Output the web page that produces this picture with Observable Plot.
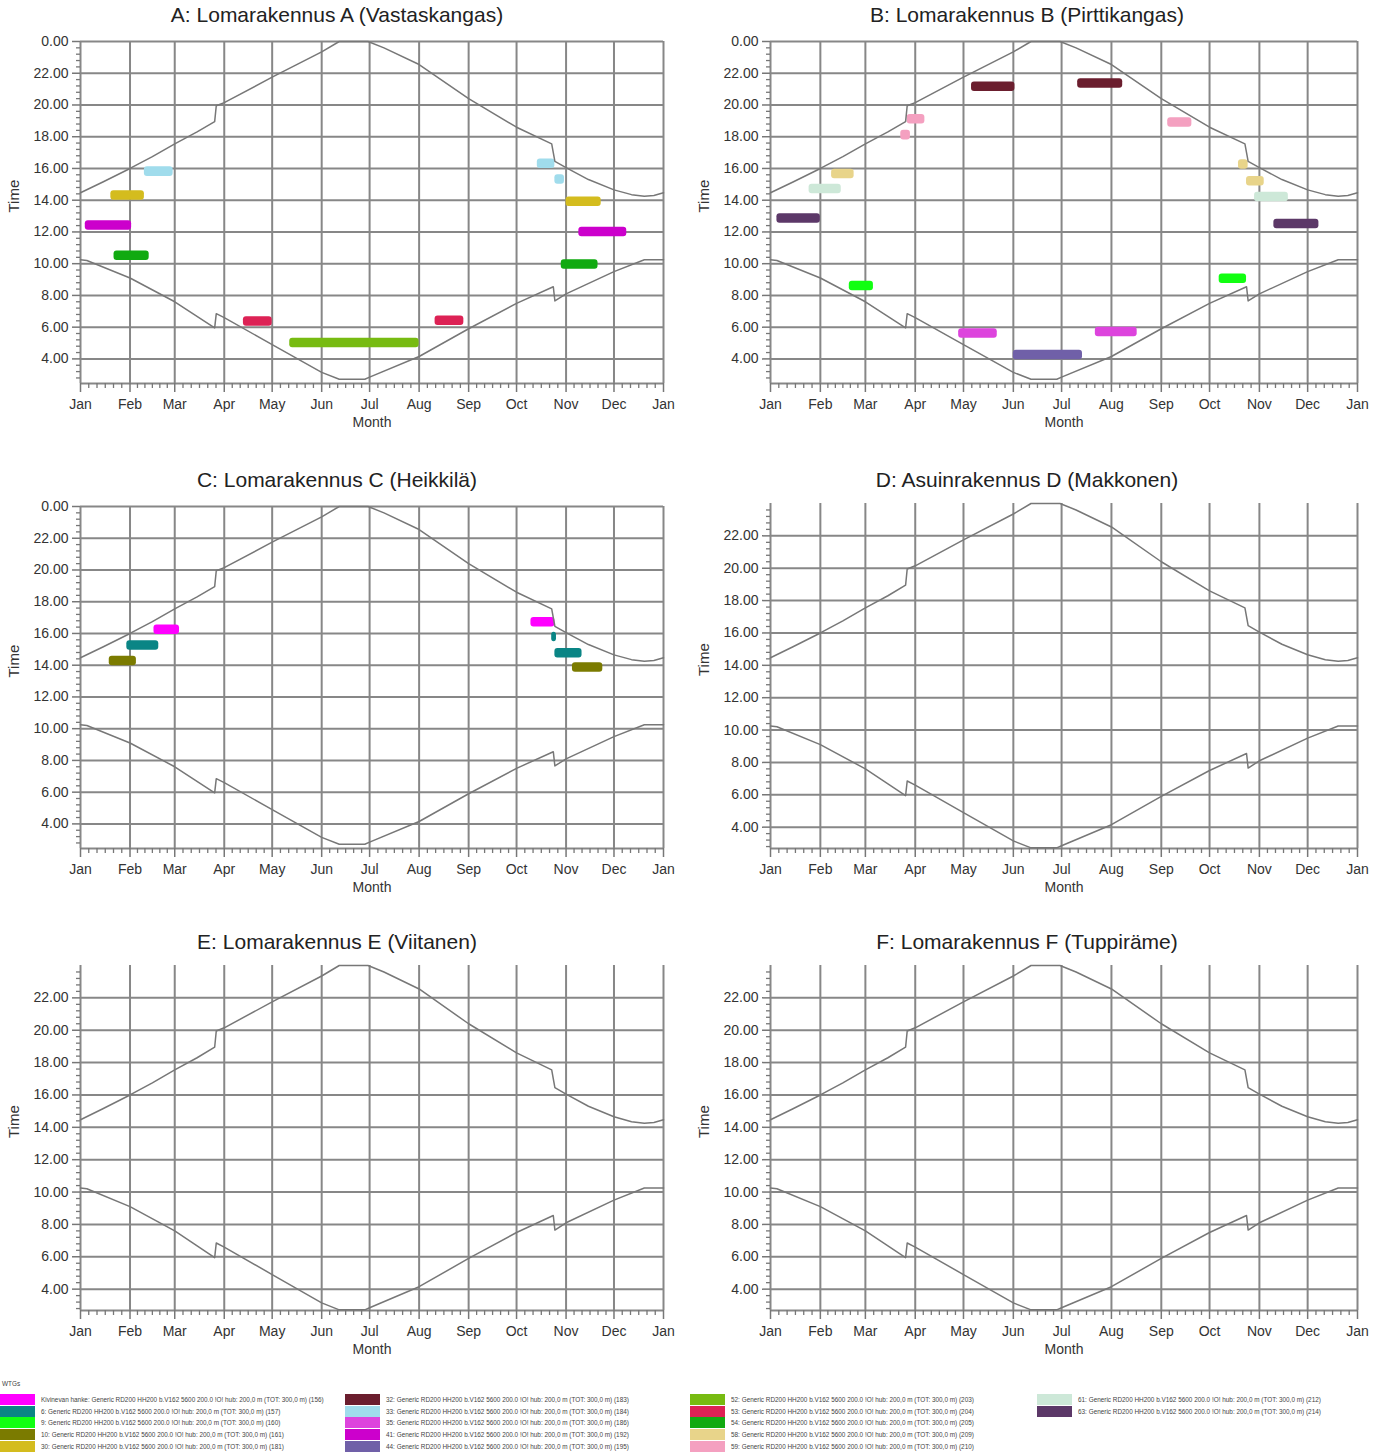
<!DOCTYPE html>
<html><head><meta charset="utf-8">
<script src="https://cdn.jsdelivr.net/npm/d3@7"></script>
<script src="https://cdn.jsdelivr.net/npm/@observablehq/plot@0.6"></script>
<style>
body{margin:0;background:#fff;font-family:"Liberation Sans",Arial,sans-serif;}
#root{position:relative;width:1384px;height:1454px;overflow:hidden;background:#fff;}
.panel{position:absolute;}
.title{position:absolute;text-align:center;font-size:21px;line-height:24px;color:#222;white-space:nowrap;}
.lg-sw{position:absolute;width:35px;height:11px;}
.lg-tx{position:absolute;font-size:6.4px;line-height:11px;color:#444;white-space:nowrap;}
</style></head><body><div id="root"></div>
<script>
// ---------- data ----------
const panelIds = ["A", "B", "C", "D", "E", "F"];
const panelTitles = [
  "A: Lomarakennus A (Vastaskangas)",
  "B: Lomarakennus B (Pirttikangas)",
  "C: Lomarakennus C (Heikkilä)",
  "D: Asuinrakennus D (Makkonen)",
  "E: Lomarakennus E (Viitanen)",
  "F: Lomarakennus F (Tuppiräme)"
];
const monthLabels = ["Jan","Feb","Mar","Apr","May","Jun","Jul","Aug","Sep","Oct","Nov","Dec","Jan"];

// sunset-like upper curve (hours)
const upperDates = ["2023-01-01","2023-01-15","2023-02-01","2023-02-15","2023-03-01","2023-03-15","2023-03-26","2023-03-27","2023-04-01","2023-05-01","2023-06-01","2023-06-12","2023-06-30","2023-07-10","2023-08-01","2023-09-01","2023-10-01","2023-10-23","2023-10-25","2023-11-01","2023-11-15","2023-12-01","2023-12-12","2023-12-20","2023-12-26","2024-01-01"];
const upperTimes = [14.47,15.15,16.0,16.75,17.55,18.3,18.95,19.95,20.15,21.75,23.35,24.0,24.0,23.6,22.55,20.4,18.6,17.55,16.45,16.05,15.3,14.65,14.35,14.25,14.3,14.47];
// sunrise-like lower curve (hours)
const lowerDates = ["2023-01-01","2023-01-05","2023-02-01","2023-03-01","2023-03-26","2023-03-27","2023-04-01","2023-05-01","2023-06-01","2023-06-12","2023-06-28","2023-07-01","2023-08-01","2023-09-01","2023-10-01","2023-10-24","2023-10-25","2023-11-01","2023-12-01","2023-12-20","2024-01-01"];
const lowerTimes = [10.25,10.2,9.1,7.6,5.95,6.85,6.6,4.9,3.15,2.72,2.72,2.85,4.15,5.9,7.5,8.55,7.65,8.1,9.5,10.25,10.25];

// WTG legend
const wtgNames = ["Kivinevan hanke","6","9","10","30","32","33","35","41","44","52","53","54","58","59","61","63"];
const wtgIds = ["156","157","160","161","181","183","184","186","192","195","203","204","205","209","210","212","214"];
const wtgColors = ["#ff00ff","#0a8585","#11ff11","#7b7b00","#d4bc1e","#6b1e2e","#a0dcec","#dd44dd","#cc00cc","#7060a8","#77bb11","#dd2255","#11aa11","#e8d48a","#f4a0c0","#cde8d8","#5c3868"];

// shadow periods
const barPanel = ["A","A","A","A","A","A","A","A","A","A","A","A",
  "B","B","B","B","B","B","B","B","B","B","B","B","B","B","B","B","B",
  "C","C","C","C","C","C","C"];
const barWtg = ["41","30","33","54","53","52","53","33","33","30","41","54",
  "63","61","58","9","59","59","32","35","44","32","35","59","58","58","61","63","9",
  "10","6","Kivinevan hanke","Kivinevan hanke","6","6","10"];
const barStart = ["2023-01-04","2023-01-20","2023-02-10","2023-01-22","2023-04-13","2023-05-12","2023-08-11","2023-10-14","2023-10-25","2023-11-01","2023-11-09","2023-10-29",
  "2023-01-05","2023-01-25","2023-02-08","2023-02-19","2023-03-23","2023-03-27","2023-05-06","2023-04-28","2023-06-01","2023-07-11","2023-07-22","2023-09-05","2023-10-19","2023-10-24","2023-10-29","2023-11-10","2023-10-07",
  "2023-01-19","2023-01-30","2023-02-16","2023-10-10","2023-10-23","2023-10-25","2023-11-05"];
const barEnd = ["2023-02-02","2023-02-10","2023-02-28","2023-02-13","2023-05-01","2023-08-01","2023-08-29","2023-10-25","2023-10-31","2023-11-23","2023-12-09","2023-11-21",
  "2023-02-01","2023-02-14","2023-02-22","2023-03-06","2023-03-29","2023-04-07","2023-06-02","2023-05-22","2023-07-14","2023-08-08","2023-08-17","2023-09-20","2023-10-25","2023-11-04","2023-11-19","2023-12-08","2023-10-24",
  "2023-02-05","2023-02-19","2023-03-04","2023-10-25","2023-10-26","2023-11-11","2023-11-24"];
const barTime = [12.4,14.3,15.8,10.5,6.35,5.0,6.4,16.3,15.3,13.9,12.0,9.95,
  12.85,14.7,15.65,8.6,18.1,19.1,21.15,5.6,4.25,21.35,5.7,18.9,16.25,15.2,14.2,12.5,9.05,
  14.27,15.24,16.23,16.7,15.77,14.75,13.85];

// ---------- build ----------
const parse = d3.utcParse("%Y-%m-%d");
const upper = upperDates.map((d, i) => ({date: parse(d), t: upperTimes[i]}));
const lower = lowerDates.map((d, i) => ({date: parse(d), t: lowerTimes[i]}));
const bars = barPanel.map((p, i) => ({panel: p, wtg: barWtg[i], start: parse(barStart[i]), end: parse(barEnd[i]), t: barTime[i]}));

const x0 = new Date(Date.UTC(2023, 0, 1)), x1 = new Date(Date.UTC(2024, 0, 1));
const monthTicks = d3.utcMonth.range(x0, new Date(Date.UTC(2024, 0, 2)));
const minorX = [];
d3.utcMonth.range(x0, x1).forEach(m => {
  const n = d3.utcMonth.offset(m, 1);
  for (let i = 1; i <= 5; i++) minorX.push(new Date(+m + (n - m) * i / 6));
});
const fmtMonth = d => monthLabels[d.getUTCMonth()];

const root = document.getElementById("root");
const grid = "#878787";

panelIds.forEach((id, pi) => {
  const col = pi % 2, row = Math.floor(pi / 2);
  const left = col === 0 ? 0 : 690;
  const top = [26, 491, 953][row];
  const width = col === 0 ? 692 : 694;
  const marginRight = col === 0 ? 29 : 27;
  const full = row < 2 && pi !== 3;
  const ymax = 24;
  const ymin = full ? 2.45 : 2.68;
  const marginTop = full ? 15 : 12;
  const yTicks = d3.range(4, full ? 25 : 23, 2);
  const minorY = d3.range(7, 61).filter(k => k % 5 !== 0).map(k => k * 0.4).filter(v => v >= ymin && v <= ymax);
  const pb = bars.filter(b => b.panel === id);

  const chart = Plot.plot({
    width, height: 407, marginLeft: 80, marginRight, marginTop, marginBottom: 50,
    x: {type: "utc", domain: [x0, x1]},
    y: {domain: [ymin, ymax]},
    color: {domain: wtgNames, range: wtgColors},
    style: {fontFamily: "'Liberation Sans', Arial, sans-serif", fontSize: "14px", color: "#333", background: "#fff"},
    marks: [
      Plot.ruleX(monthTicks, {x: d => d, stroke: grid, strokeWidth: 2}),
      Plot.ruleY(yTicks, {y: d => d, stroke: grid, strokeWidth: 2}),
      Plot.ruleY([ymin], {y: d => d, stroke: grid, strokeWidth: 2}),
      Plot.axisX(minorX, {tickSize: 5, tickFormat: () => "", stroke: "#777", strokeWidth: 1.3, label: null}),
      Plot.axisX(monthTicks, {tickSize: 9, tickPadding: 7, tickFormat: fmtMonth, stroke: "#777", strokeWidth: 1.5, fill: "#333", fontSize: 14, label: null}),
      Plot.axisY(minorY, {tickSize: 4, tickFormat: () => "", stroke: "#777", strokeWidth: 1.3, label: null}),
      Plot.axisY(yTicks, {tickSize: 8, tickPadding: 4, tickFormat: d => (d % 24).toFixed(2), stroke: "#777", strokeWidth: 1.5, fill: "#333", fontSize: 14, label: null}),
      Plot.rect(pb, {x1: "start", x2: "end", y1: d => d.t - 0.3, y2: d => d.t + 0.3, fill: "wtg", rx: 3}),
      Plot.line(upper, {x: "date", y: "t", stroke: "#777", strokeWidth: 1.5}),
      Plot.line(lower, {x: "date", y: "t", stroke: "#777", strokeWidth: 1.5}),
      Plot.text(["Month"], {frameAnchor: "bottom", dy: 43, fontSize: 14, fill: "#333"}),
      Plot.text(["Time"], {frameAnchor: "left", dx: -66, rotate: -90, fontSize: 15, fill: "#333"})
    ]
  });
  const div = document.createElement("div");
  div.className = "panel";
  div.style.left = left + "px";
  div.style.top = top + "px";
  div.appendChild(chart);
  root.appendChild(div);

  const t = document.createElement("div");
  t.className = "title";
  t.textContent = panelTitles[pi];
  t.style.left = left + "px";
  t.style.width = "674px";
  t.style.top = (top - 23) + "px";
  root.appendChild(t);
});

// ---------- legend ----------
const lgTitle = document.createElement("div");
lgTitle.className = "lg-tx";
lgTitle.textContent = "WTGs";
lgTitle.style.left = "2px";
lgTitle.style.top = "1378px";
root.appendChild(lgTitle);
const colX = [0, 345, 690, 1037];
wtgNames.forEach((n, i) => {
  const c = Math.floor(i / 5), r = i % 5;
  const y = 1394 + r * 11.7;
  const sw = document.createElement("div");
  sw.className = "lg-sw";
  sw.style.left = colX[c] + "px";
  sw.style.top = y + "px";
  sw.style.background = wtgColors[i];
  root.appendChild(sw);
  const tx = document.createElement("div");
  tx.className = "lg-tx";
  tx.style.left = (colX[c] + 41) + "px";
  tx.style.top = y + "px";
  tx.textContent = n + ": Generic RD200 HH200 b.V162 5600 200.0 !O! hub: 200,0 m (TOT: 300,0 m) (" + wtgIds[i] + ")";
  root.appendChild(tx);
});
</script>
</body></html>
